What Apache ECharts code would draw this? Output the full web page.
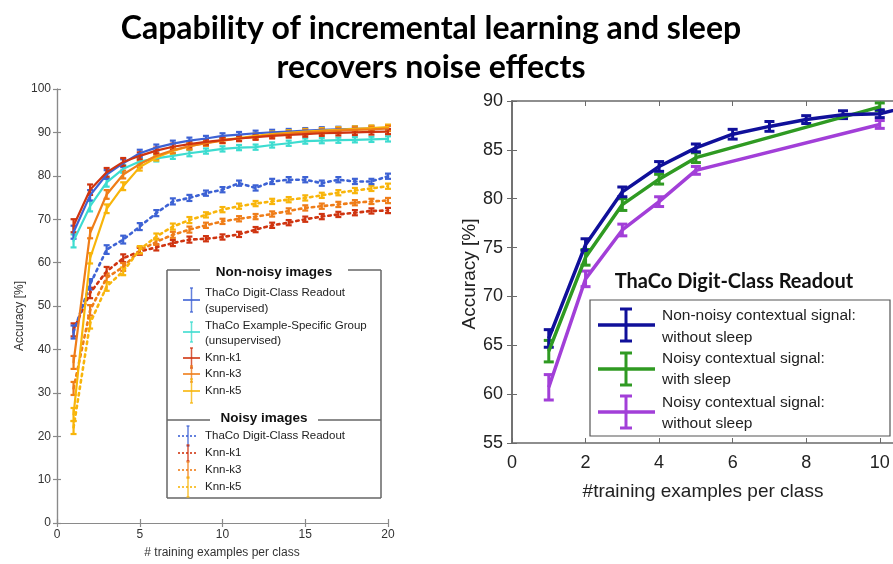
<!DOCTYPE html>
<html><head><meta charset="utf-8">
<script src="https://cdn.jsdelivr.net/npm/echarts@6/dist/echarts.min.js"></script>
<style>html,body{margin:0;padding:0;background:#fff}#c{width:893px;height:564px}</style>
</head><body><div id="c"></div>
<script>
// ---------- Title ----------
const titleLines = ['Capability of incremental learning and sleep', 'recovers noise effects'];

// ---------- Left chart data ----------
const leftX = [1,2,3,4,5,6,7,8,9,10,11,12,13,14,15,16,17,18,19,20];
const leftErr = [1.5,1.2,1.0,0.9,0.8,0.7,0.7,0.7,0.6,0.6,0.6,0.6,0.6,0.6,0.6,0.6,0.6,0.6,0.6,0.6];
const thacoSup   = [67,75.5,80.3,82.9,85.2,86.5,87.4,88.1,88.6,89.2,89.5,89.8,90.0,90.2,90.4,90.6,90.7,90.8,90.9,91.0];
const thacoUnsup = [65,73,78.5,81.6,83.3,84.0,84.6,85.2,85.7,86.2,86.5,86.6,87.1,87.5,88.0,88.1,88.2,88.3,88.4,88.5];
const knnK1      = [68.5,76.8,80.8,83.2,84.6,85.8,86.7,87.3,87.8,88.2,88.6,88.9,89.2,89.4,89.6,89.8,89.9,90.0,90.1,90.2];
const knnK3      = [37,66.8,75.7,80.3,82.7,84.6,85.9,86.8,87.5,88.1,88.6,89.0,89.4,89.7,90.0,90.2,90.4,90.6,90.7,90.9];
const knnK5      = [25,61,72.4,77.6,82.0,84.2,85.7,86.8,87.6,88.2,88.7,89.2,89.6,89.9,90.2,90.4,90.6,90.8,91.0,91.2];
const noisyThaco = [44,55,63,65.3,68.3,71.4,74.1,74.9,76.0,76.8,78.3,77.2,78.7,79.1,79.1,78.3,79.1,78.7,78.7,79.9];
const noisyK1    = [44.5,53,58,61,62.6,63.5,64.5,65.3,65.5,65.9,66.5,67.6,68.6,69.2,70.0,70.6,71.1,71.5,71.9,72.0];
const noisyK3    = [31,49,56.5,59,62.8,64.8,66.4,67.6,68.6,69.5,70.1,70.6,71.2,71.9,72.6,73.0,73.4,73.8,74.1,74.3];
const noisyK5    = [22,46,54.5,58,63,66,68.3,69.8,71,72.2,73,73.6,74.1,74.5,74.9,75.5,76.1,76.6,77.1,77.6];
const leftXTicks = [0,5,10,15,20];
const leftYTicks = [0,10,20,30,40,50,60,70,80,90,100];

// ---------- Right chart data ----------
const blueX   = [1,2,3,4,5,6,7,8,9,10,11];
const blueY   = [65.7,75.3,80.7,83.3,85.2,86.6,87.4,88.1,88.6,88.7,89.6];
const blueErr = [0.9,0.6,0.5,0.5,0.4,0.5,0.5,0.4,0.4,0.4,0.4];
const sleepX  = [1,2,3,4,5,10];
const greenY  = [64.4,74.0,79.4,82.0,84.2,89.4];
const greenErr= [1.1,0.8,0.6,0.5,0.5,0.4];
const purpleY = [60.7,71.8,76.8,79.7,82.9,87.6];
const purpleErr=[1.3,0.8,0.6,0.5,0.4,0.4];
const rightXTicks = [0,2,4,6,8,10];
const rightYTicks = [55,60,65,70,75,80,85,90];

// ---------- helpers ----------
const C = {
  blue:'#3d62d4', teal:'#3ddcd0', red:'#cf3410', orange:'#ef7d18', yellow:'#f8b50a',
  navy:'#10109a', green:'#2f9a22', purple:'#a23fd8'
};
function errRender(capHalf, lw, color){
  return function(params, api){
    const x=api.value(0), y=api.value(1), e=api.value(2);
    const t=api.coord([x,y+e]), b=api.coord([x,y-e]);
    const st={stroke:color,lineWidth:lw};
    return {type:'group',children:[
      {type:'line',shape:{x1:t[0],y1:t[1],x2:b[0],y2:b[1]},style:st},
      {type:'line',shape:{x1:t[0]-capHalf,y1:t[1],x2:t[0]+capHalf,y2:t[1]},style:st},
      {type:'line',shape:{x1:b[0]-capHalf,y1:b[1],x2:b[0]+capHalf,y2:b[1]},style:st}
    ]};
  };
}
function pairs(xs, ys){ return xs.map((x,i)=>[x, ys[i]]); }
function triples(xs, ys, es){ return xs.map((x,i)=>[x, ys[i], es[i]]); }

const series = [];
function leftSeries(vals, color, dotted, name){
  series.push({type:'line', name, xAxisIndex:0, yAxisIndex:0, data:pairs(leftX, vals), symbol:'none',
    lineStyle:{color, width:dotted?2.6:2.2, type:dotted?[2.5,4]:'solid', cap:'round'}, z:dotted?2:3, animation:false});
  series.push({type:'custom', xAxisIndex:0, yAxisIndex:0, data:triples(leftX, vals, leftErr),
    renderItem:errRender(3, 2.2, color), z:dotted?2:3, animation:false});
}
leftSeries(noisyK1, C.red, true, 'nK1');
leftSeries(noisyK3, C.orange, true, 'nK3');
leftSeries(noisyK5, C.yellow, true, 'nK5');
leftSeries(noisyThaco, C.blue, true, 'nThaco');
leftSeries(thacoUnsup, C.teal, false, 'unsup');
leftSeries(thacoSup, C.blue, false, 'sup');
leftSeries(knnK5, C.yellow, false, 'k5');
leftSeries(knnK3, C.orange, false, 'k3');
leftSeries(knnK1, C.red, false, 'k1');

function rightSeries(xs, vals, errs, color){
  series.push({type:'line', xAxisIndex:2, yAxisIndex:2, data:pairs(xs, vals), symbol:'none',
    lineStyle:{color, width:3.5}, clip:true, animation:false});
  series.push({type:'custom', xAxisIndex:2, yAxisIndex:2, data:triples(xs, vals, errs), clip:true,
    renderItem:errRender(5, 3, color), animation:false});
}
rightSeries(sleepX, purpleY, purpleErr, C.purple);
rightSeries(sleepX, greenY, greenErr, C.green);
rightSeries(blueX, blueY, blueErr, C.navy);

// ---------- axes ----------
const gL = {color:'#8a8a8a', width:1.2};
function valAxis(o){ return Object.assign({type:'value', splitLine:{show:false}}, o); }
const leftGrid = {left:57, top:89, width:331, height:434};
const rightGrid = {left:512, top:101, width:381, height:342};

const xAxis = [
  valAxis({gridIndex:0, min:0, max:20, interval:5, position:'bottom',
    axisLine:{lineStyle:gL}, axisTick:{inside:true, length:4, lineStyle:gL},
    axisLabel:{color:'#333', fontSize:12, fontFamily:'Liberation Sans', margin:6}}),
  valAxis({gridIndex:0, min:0, max:20, interval:5, position:'top',
    axisLine:{lineStyle:gL}, axisTick:{inside:true, length:4, lineStyle:gL}, axisLabel:{show:false}}),
  valAxis({gridIndex:1, min:0, max:10.36, interval:2, position:'bottom',
    axisLine:{lineStyle:{color:'#6a6a6a', width:1.5}}, axisTick:{inside:true, length:5, lineStyle:{color:'#6a6a6a'}},
    axisLabel:{color:'#222', fontSize:18, fontFamily:'Liberation Sans', margin:11, showMaxLabel:false,
      formatter:v=> (Math.abs(v%2)<1e-9 ? String(v) : '')}}),
  valAxis({gridIndex:1, min:0, max:10.36, interval:2, position:'top',
    axisLine:{lineStyle:{color:'#6a6a6a', width:1.5}}, axisTick:{inside:true, length:5, lineStyle:{color:'#6a6a6a'}}, axisLabel:{show:false}})
];
const yAxis = [
  valAxis({gridIndex:0, min:0, max:100, interval:10, position:'left',
    axisLine:{lineStyle:gL}, axisTick:{inside:true, length:4, lineStyle:gL},
    axisLabel:{color:'#333', fontSize:12, fontFamily:'Liberation Sans', margin:6}}),
  valAxis({gridIndex:0, min:0, max:100, interval:10, position:'right',
    axisLine:{lineStyle:gL}, axisTick:{inside:true, length:4, lineStyle:gL}, axisLabel:{show:false}}),
  valAxis({gridIndex:1, min:55, max:90, interval:5, position:'left',
    axisLine:{lineStyle:{color:'#6a6a6a', width:1.5}}, axisTick:{inside:true, length:5, lineStyle:{color:'#6a6a6a'}},
    axisLabel:{color:'#222', fontSize:18, fontFamily:'Liberation Sans', margin:9}}),
  valAxis({gridIndex:1, min:55, max:90, interval:5, position:'right',
    axisLine:{lineStyle:{color:'#6a6a6a', width:1.5}}, axisTick:{inside:true, length:5, lineStyle:{color:'#6a6a6a'}}, axisLabel:{show:false}})
];

// ---------- graphics (titles, axis names, legends) ----------
const G = [];
function txt(x,y,text,font,opts){ G.push(Object.assign({type:'text', x, y, style:Object.assign({text, font, fill:'#222', textAlign:'left', textVerticalAlign:'middle'}, opts||{})}, {z:50})); }
function ln(x1,y1,x2,y2,color,w,dash,op){ G.push({type:'line', shape:{x1,y1,x2,y2}, style:{stroke:color, lineWidth:w, lineDash:dash||null, opacity:op==null?1:op}, z:50}); }

txt(431, 29, titleLines[0], 'bold 32px Lato', {fill:'#000', textAlign:'center'});
txt(431, 68, titleLines[1], 'bold 32px Lato', {fill:'#000', textAlign:'center'});

// left axis names
G.push({type:'text', x:20, y:316, rotation:Math.PI/2, style:{text:'Accuracy [%]', font:'12px "Liberation Sans"', fill:'#333', textAlign:'center', textVerticalAlign:'middle'}});
txt(222, 553, '# training examples per class', '12px "Liberation Sans"', {fill:'#333', textAlign:'center'});

// left legend box
const lb = {l:167, r:381, t:270, m:420, b:498};
G.push({type:'rect', shape:{x:lb.l, y:lb.t, width:lb.r-lb.l, height:lb.b-lb.t}, style:{fill:'#fff', stroke:null}, z:40});
ln(lb.l, lb.t, 200, lb.t, '#666', 1.5); ln(348, lb.t, lb.r, lb.t, '#666', 1.5);
ln(lb.l, lb.t, lb.l, lb.b, '#666', 1.5); ln(lb.r, lb.t, lb.r, lb.b, '#666', 1.5); ln(lb.l, lb.b, lb.r, lb.b, '#666', 1.5);
ln(lb.l, lb.m, 210, lb.m, '#666', 1.5); ln(318, lb.m, lb.r, lb.m, '#666', 1.5);
txt(274, 272, 'Non-noisy images', 'bold 13.5px "Liberation Sans"', {textAlign:'center', fill:'#111'});
txt(264, 418, 'Noisy images', 'bold 13.5px "Liberation Sans"', {textAlign:'center', fill:'#111'});
const lf = '11.5px "Liberation Sans"';
const leftLegend = [
  {y:300, c:C.blue, h:12, dot:false, lines:[['ThaCo Digit-Class Readout',293],['(supervised)',309]]},
  {y:332, c:C.teal, h:10, dot:false, lines:[['ThaCo Example-Specific Group',326],['(unsupervised)',341]]},
  {y:358, c:C.red, h:10, dot:false, lines:[['Knn-k1',358]]},
  {y:374, c:C.orange, h:8, dot:false, lines:[['Knn-k3',374]]},
  {y:391, c:C.yellow, h:12, dot:false, lines:[['Knn-k5',391]]},
  {y:436, c:C.blue, h:10, dot:true, lines:[['ThaCo Digit-Class Readout',436]]},
  {y:453, c:C.red, h:8, dot:true, lines:[['Knn-k1',453]]},
  {y:470, c:C.orange, h:8, dot:true, lines:[['Knn-k3',470]]},
  {y:487, c:C.yellow, h:10, dot:true, lines:[['Knn-k5',487]]}
];
leftLegend.forEach(e=>{
  const x0 = e.dot?178:183, x1 = e.dot?198:200, xc=(x0+x1)/2;
  ln(x0, e.y, x1, e.y, e.c, 2, e.dot?[2,2]:null, 0.8);
  ln(xc, e.y-e.h, xc, e.y+e.h, e.c, 1.5, null, 0.8);
  ln(xc-1.5, e.y-e.h, xc+1.5, e.y-e.h, e.c, 1.5, null, 0.8);
  ln(xc-1.5, e.y+e.h, xc+1.5, e.y+e.h, e.c, 1.5, null, 0.8);
  e.lines.forEach(l=>txt(205, l[1], l[0], lf, {fill:'#222'}));
});

// right axis names
G.push({type:'text', x:470, y:274, rotation:Math.PI/2, style:{text:'Accuracy [%]', font:'19px "Liberation Sans"', fill:'#222', textAlign:'center', textVerticalAlign:'middle'}});
txt(703, 492, '#training examples per class', '19px "Liberation Sans"', {textAlign:'center'});

// right legend
txt(734, 282, 'ThaCo Digit-Class Readout', 'bold 20px Lato', {textAlign:'center', fill:'#111'});
G.push({type:'rect', shape:{x:590, y:300, width:300, height:136}, style:{fill:'#fff', stroke:'#555', lineWidth:1.2}, z:40});
const rf = '15.5px "Liberation Sans"';
const rightLegend = [
  {y:325, c:C.navy, t:['Non-noisy contextual signal:','without sleep'], ty:[316,338]},
  {y:369, c:C.green, t:['Noisy contextual signal:','with sleep'], ty:[359,380]},
  {y:412, c:C.purple, t:['Noisy contextual signal:','without sleep'], ty:[403,424]}
];
rightLegend.forEach(e=>{
  ln(598, e.y, 655, e.y, e.c, 3.5);
  ln(626, e.y-16, 626, e.y+16, e.c, 3);
  ln(620, e.y-16, 632, e.y-16, e.c, 3);
  ln(620, e.y+16, 632, e.y+16, e.c, 3);
  txt(662, e.ty[0], e.t[0], rf); txt(662, e.ty[1], e.t[1], rf);
});

const chart = echarts.init(document.getElementById('c'), null, {renderer:'canvas'});
chart.setOption({
  backgroundColor:'#fff',
  animation:false,
  grid:[leftGrid, rightGrid],
  xAxis, yAxis, series,
  graphic: G
});
</script></body></html>
